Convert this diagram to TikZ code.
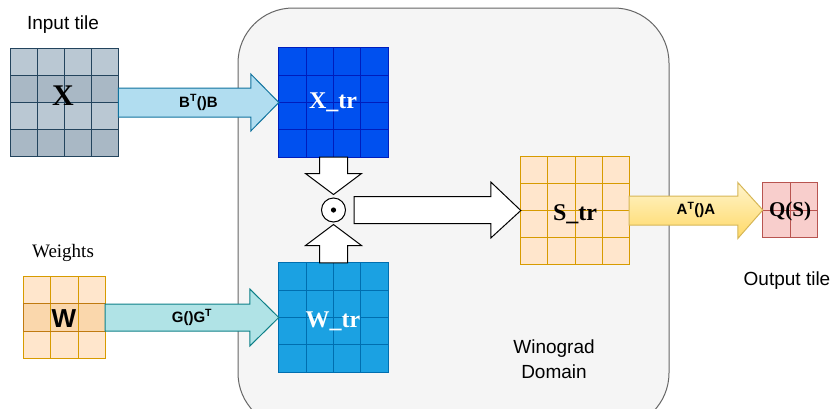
\documentclass[tikz,border=0pt]{standalone}
\usepackage{fontspec}
\setmainfont{Liberation Sans}
\newfontfamily\timesfont{Liberation Serif}
\usetikzlibrary{calc,positioning}

\definecolor{xlight}{HTML}{BAC8D3}
\definecolor{xdark}{HTML}{A9B8C5}
\definecolor{xline}{HTML}{23445D}
\definecolor{wlight}{HTML}{FFE6CC}
\definecolor{wdark}{HTML}{FAD7AC}
\definecolor{wline}{HTML}{D79B00}
\definecolor{wmidline}{HTML}{C07A10}
\definecolor{xtrfill}{HTML}{0050EF}
\definecolor{xtrline}{HTML}{001DBC}
\definecolor{wtrfill}{HTML}{1BA1E2}
\definecolor{wtrline}{HTML}{006EAF}
\definecolor{qfill}{HTML}{F8CECC}
\definecolor{qline}{HTML}{B85450}
\definecolor{domfill}{HTML}{F5F5F5}
\definecolor{domline}{HTML}{666666}
\definecolor{bfill}{HTML}{B1DDF0}
\definecolor{bline}{HTML}{10739E}
\definecolor{gfill}{HTML}{B0E3E6}
\definecolor{gline}{HTML}{0E8088}
\definecolor{atop}{HTML}{FFF4CC}
\definecolor{abot}{HTML}{FFD966}
\definecolor{aline}{HTML}{D6B656}

% grid lines and frame of a tile node
\newcommand\gridlines[3]{%
  \pgfmathtruncatemacro\gridm{#2-1}
  \foreach \k in {1,...,\gridm}{
    \draw[#3] ($(#1.north west)!\k/#2!(#1.north east)$) -- ($(#1.south west)!\k/#2!(#1.south east)$);
    \draw[#3] ($(#1.north west)!\k/#2!(#1.south west)$) -- ($(#1.north east)!\k/#2!(#1.south east)$);
  }
  \draw[#3] (#1.north west) rectangle (#1.south east);}

% horizontal block arrow: style, from, to, shaft half, head half, head length, label
\newcommand\hblock[7]{%
  \draw[#1] let \p1=(#2), \p2=(#3) in
    (\x1,{\y1+#4pt}) -- ({\x2-#6pt},{\y1+#4pt}) -- ({\x2-#6pt},{\y1+#5pt}) -- (\x2,\y2)
    -- ({\x2-#6pt},{\y1-#5pt}) -- ({\x2-#6pt},{\y1-#4pt}) -- (\x1,{\y1-#4pt}) -- cycle;
  \node[oplabel] at ($(#2)!0.5!(#3)$) {#7};}

% vertical block arrow: style, from, to, shaft half, head half, head length
\newcommand\vblock[6]{%
  \draw[#1] let \p1=(#2), \p2=(#3), \n1={sign(\y2-\y1)} in
    ({\x1+#4pt},\y1) -- ({\x1+#4pt},{\y2-\n1*#6pt}) -- ({\x1+#5pt},{\y2-\n1*#6pt}) -- (\x2,\y2)
    -- ({\x1-#5pt},{\y2-\n1*#6pt}) -- ({\x1-#4pt},{\y2-\n1*#6pt}) -- ({\x1-#4pt},\y1) -- cycle;}

\begin{document}
\begin{tikzpicture}[x=1pt,y=-1pt,
  tile/.style={draw=none,inner sep=0pt,minimum size=#1pt},
  caption/.style={anchor=base,font=\fontsize{19}{23}\selectfont},
  oplabel/.style={font=\fontsize{15}{18}\selectfont\bfseries},
  bigserif/.style={anchor=base,font=\fontsize{24}{28}\selectfont\timesfont\bfseries},
  whitearrow/.style={draw=black,fill=white,line width=1pt,line join=miter},
  gridthin/.style={line width=0.9pt},
]
\clip (0,0) rectangle (836,408);

% Winograd domain
\draw[fill=domfill,draw=domline,line width=1pt,rounded corners=55pt] (238,8) rectangle (669,428);
\node[caption] (domlbl) at (554,353) {Winograd};
\node[caption] (domlbl2) at (554,378) {Domain};

% input tile
\node[tile=107.5,fill=xlight] (xin) at (64.3,102.5) {};
\fill[xdark] ($(xin.north west)!.25!(xin.south west)$) rectangle ($(xin.north east)!.5!(xin.south east)$);
\fill[xdark] ($(xin.north west)!.75!(xin.south west)$) rectangle (xin.south east);
\gridlines{xin}{4}{gridthin,xline}
\node[anchor=base,font=\fontsize{30}{34}\selectfont\timesfont\bfseries] (xlbl) at (63,105) {X};
\node[caption] (inlbl) at (63,29) {Input tile};

% weights
\node[tile=81,fill=wlight] (w) at (64.5,317.5) {};
\fill[wdark] ($(w.north west)!1/3!(w.south west)$) rectangle ($(w.north east)!2/3!(w.south east)$);
\gridlines{w}{3}{gridthin,wline}
\draw[gridthin,wmidline] ($(w.north west)!1/3!(w.south west)$) rectangle ($(w.north east)!2/3!(w.south east)$);
\node[anchor=base,font=\fontsize{26}{30}\selectfont\bfseries] (wlbl) at (64,327) {W};
\node[caption,font=\fontsize{19}{23}\selectfont\timesfont] (wtlbl) at (63,257) {Weights};

% transformed tiles
\node[tile=109,fill=xtrfill] (xtr) at (333.5,102.5) {};
\gridlines{xtr}{4}{gridthin,xtrline}
\node[bigserif,text=white] (xtrlbl) at (333,108) {X\_tr};

\node[tile=109,fill=wtrfill] (wtr) at (333.5,317.5) {};
\gridlines{wtr}{4}{gridthin,wtrline}
\node[bigserif,text=white] (wtrlbl) at (333,327) {W\_tr};

\node[tile=108,fill=wlight] (str) at (575,210.5) {};
\gridlines{str}{4}{gridthin,wline}
\node[bigserif] (strlbl) at (575,220) {S\_tr};

% output tile
\node[tile=54,fill=qfill] (qs) at (790,210) {};
\gridlines{qs}{2}{gridthin,qline}
\node[anchor=base,font=\fontsize{21}{25}\selectfont\timesfont\bfseries] (qslbl) at (790,216) {Q(S)};
\node[caption] (outlbl) at (787,285) {Output tile};

% element-wise product
\node[circle,draw=black,fill=white,line width=1pt,minimum size=24pt,inner sep=0pt] (dot) at (333.5,210) {};
\fill (dot.center) circle (2.6pt);
\coordinate (dotin1) at ($(dot.north)+(0,-3)$);
\coordinate (dotin2) at ($(dot.south)+(0,2)$);
\coordinate (dotout) at ($(dot.east)+(8,0)$);

% transforms
\hblock{fill=bfill,draw=bline,line width=1pt}{xin.east}{xtr.west}{14.5}{28.5}{28}{B\textsuperscript{T}()B}
\hblock{fill=gfill,draw=gline,line width=1pt}{w.east}{wtr.west}{13.5}{28.5}{29}{G()G\textsuperscript{T}}
\hblock{top color=atop,bottom color=abot,draw=aline,line width=1pt}{str.east}{qs.west}{14.5}{28}{25}{A\textsuperscript{T}()A}
\vblock{whitearrow}{xtr.south}{dotin1}{14}{28}{21}
\vblock{whitearrow}{wtr.north}{dotin2}{14}{28}{21}
\hblock{whitearrow}{dotout}{str.west}{13.5}{28}{30}{}
\end{tikzpicture}
\end{document}
